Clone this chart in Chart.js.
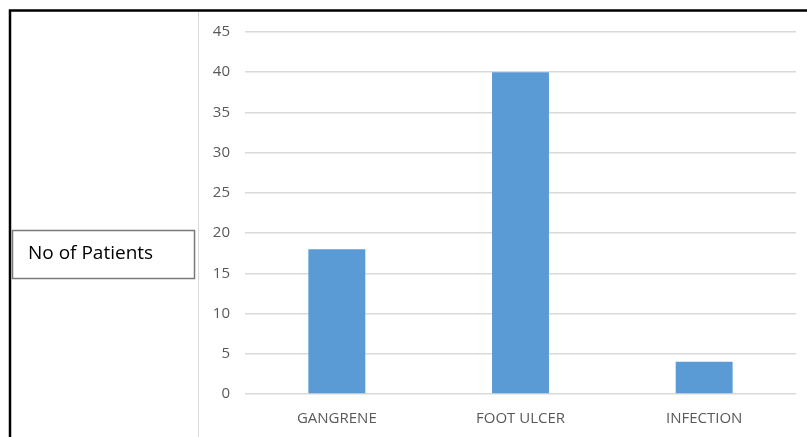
<!DOCTYPE html>
<html>
<head>
<meta charset="utf-8">
<script src="https://cdn.jsdelivr.net/npm/chart.js@4"></script>
<style>
  html, body { margin: 0; padding: 0; background: #ffffff; }
  #wrap { width: 807px; height: 437px; position: relative; }
</style>
</head>
<body>
<div id="wrap"><canvas id="c" width="807" height="437"></canvas></div>
<script>
// Complications recorded among the patients
const categories = ['GANGRENE', 'FOOT ULCER', 'INFECTION'];
const patients = [18, 40, 4];
const seriesName = 'No of Patients';
const yTicks = [0, 5, 10, 15, 20, 25, 30, 35, 40, 45];

const BAR_BLUE = '#5b9bd5';
const GRID = '#d9d9d9';
const TICK_TEXT = '#595959';
const FONT = '"Open Sans", "Liberation Sans", sans-serif';

// Frame, divider line and the boxed series label on the left
const framePlugin = {
  id: 'frame',
  afterDraw(chart) {
    const ctx = chart.ctx;
    ctx.save();
    // divider between label panel and plot
    ctx.strokeStyle = GRID;
    ctx.lineWidth = 1;
    ctx.beginPath();
    ctx.moveTo(198.5, 10);
    ctx.lineTo(198.5, 437);
    ctx.stroke();
    // outer black frame (top and left)
    ctx.strokeStyle = '#000000';
    ctx.lineWidth = 2.5;
    ctx.beginPath();
    ctx.moveTo(10, 437);
    ctx.lineTo(10, 10.5);
    ctx.lineTo(807, 10.5);
    ctx.stroke();
    // series label box
    ctx.strokeStyle = '#7a7a7a';
    ctx.lineWidth = 1.5;
    ctx.strokeRect(12.5, 230.5, 182, 48);
    ctx.fillStyle = '#000000';
    ctx.font = '19px ' + FONT;
    ctx.textBaseline = 'middle';
    ctx.textAlign = 'left';
    ctx.fillText(chart.data.datasets[0].label, 28, 254);
    ctx.restore();
  }
};

new Chart(document.getElementById('c'), {
  type: 'bar',
  data: {
    labels: categories,
    datasets: [{
      label: seriesName,
      data: patients,
      backgroundColor: BAR_BLUE,
      borderWidth: 0,
      categoryPercentage: 1,
      barPercentage: 0.31
    }]
  },
  options: {
    responsive: false,
    animation: false,
    layout: { padding: { left: 198, right: 11, top: 32, bottom: 0 } },
    plugins: {
      legend: { display: false },
      tooltip: { enabled: false }
    },
    scales: {
      x: {
        grid: { display: false, drawTicks: false },
        border: { display: false },
        ticks: {
          color: TICK_TEXT,
          font: { family: FONT, size: 15 },
          padding: 16,
          maxRotation: 0
        },
        afterFit(scale) { scale.height = 43; }
      },
      y: {
        min: 0,
        max: 45,
        afterBuildTicks(scale) { scale.ticks = yTicks.map(v => ({ value: v })); },
        grid: { color: GRID, lineWidth: 1.5, drawTicks: false },
        border: { display: false },
        ticks: {
          color: TICK_TEXT,
          font: { family: FONT, size: 15 },
          padding: 15
        },
        afterFit(scale) { scale.width = 47; }
      }
    }
  },
  plugins: [framePlugin]
});
</script>
</body>
</html>
